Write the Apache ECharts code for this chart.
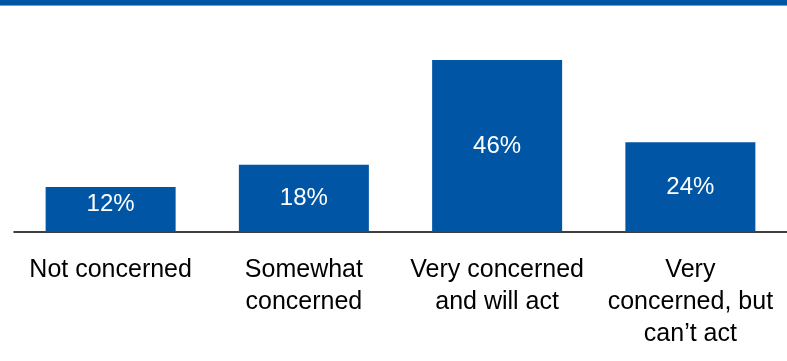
<!DOCTYPE html>
<html><head><meta charset="utf-8">
<script src="https://cdn.jsdelivr.net/npm/echarts@6/dist/echarts.min.js"></script>
<style>html,body{margin:0;padding:0;background:#fff}#c{width:787px;height:361px}</style>
</head><body><div id="c"></div>
<script>
const categories = ["Not concerned", "Somewhat\nconcerned", "Very concerned\nand will act", "Very\nconcerned, but\ncan\u2019t act"];
const values = [12, 18, 46, 24];
const chart = echarts.init(document.getElementById('c'));
chart.setOption({
  animation: false,
  graphic: [
    {type:'rect', shape:{x:0,y:0,width:787,height:5}, style:{fill:'#0055A5'}},
    {type:'rect', shape:{x:0,y:5,width:787,height:1}, style:{fill:'#6A9FD6'}}
  ],
  grid: {left: 14, right: 0, top: 45, bottom: 129},
  xAxis: {
    type: 'category', data: categories,
    axisLine: {lineStyle: {color: '#000', width: 1.5}},
    axisTick: {show: false},
    axisLabel: {color: '#000', fontFamily: 'Liberation Sans, Arial', fontSize: 25, lineHeight: 32, margin: 22, interval: 0}
  },
  yAxis: {type: 'value', min: 0, max: 50, show: false, splitLine: {show: false}},
  series: [{
    type: 'bar', barWidth: 130,
    data: values.map((v, i) => i === 0 ? {value: v, label: {offset: [0, -5]}} : v),
    itemStyle: {color: '#0055A5'},
    label: {show: true, position: 'inside', color: '#fff', fontFamily: 'Liberation Sans, Arial', fontSize: 24, formatter: '{c}%'}
  }]
});
</script></body></html>
